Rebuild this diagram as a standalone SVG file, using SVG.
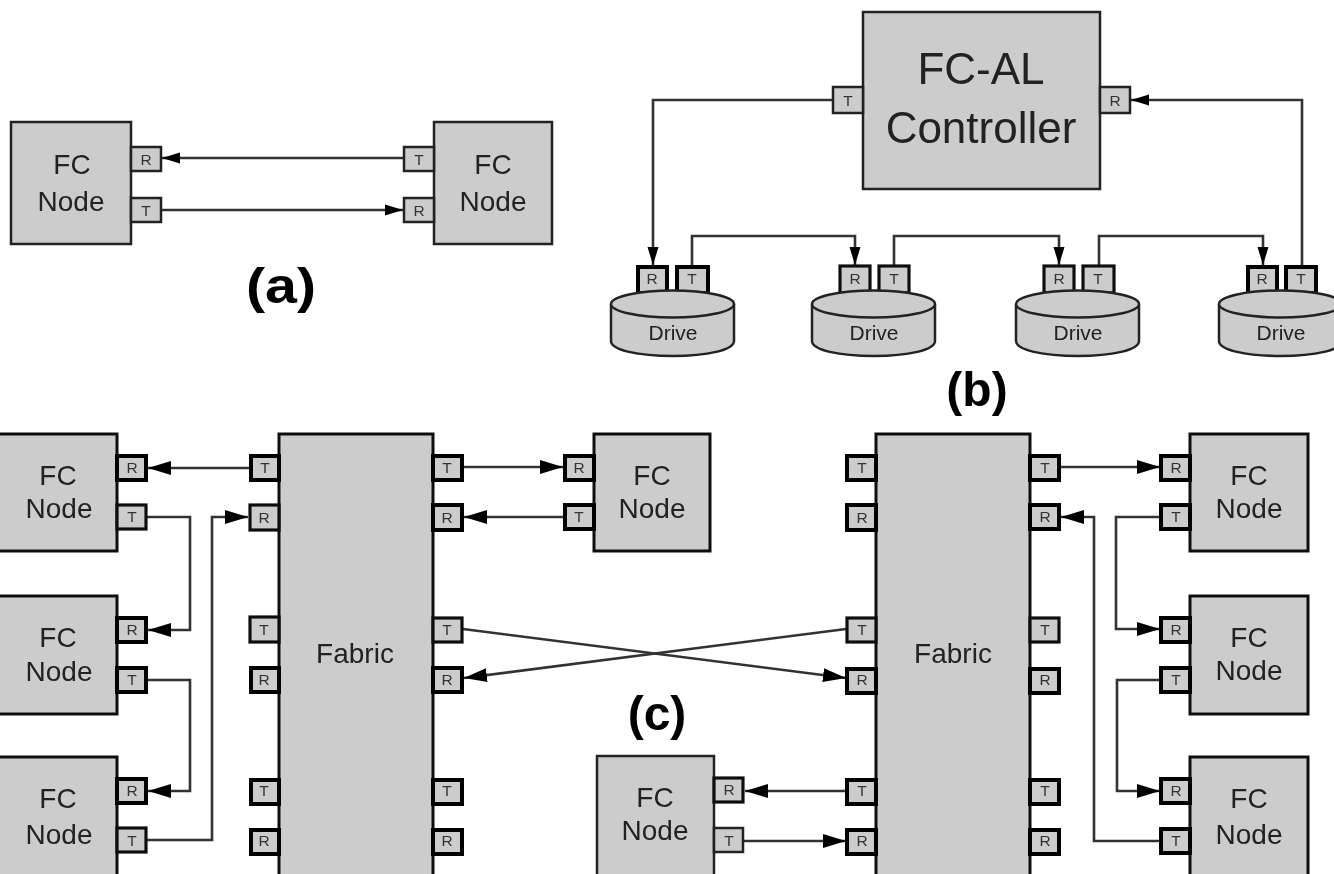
<svg xmlns="http://www.w3.org/2000/svg" width="1334" height="874" viewBox="0 0 1334 874">
<style>
.n{fill:#ccc;stroke:#111;stroke-width:3}
.p{fill:#ccc;stroke:#222;stroke-width:2.5}
.m{fill:#ccc;stroke:#111;stroke-width:3.2}
.k{fill:#ccc;stroke:#000;stroke-width:4}
.c{fill:none;stroke:#333;stroke-width:2.6}
text{font-family:"Liberation Sans",Arial,sans-serif;text-anchor:middle;fill:#222}
.t{font-size:28px}.f{font-size:44px}.s{font-size:15.5px;fill:#333}.d{font-size:21px}
.l{font-size:48px;font-weight:bold;fill:#000}
</style>
<defs>
<filter id="soft" x="0" y="0" width="100%" height="100%" filterUnits="objectBoundingBox"><feGaussianBlur stdDeviation="0.55"/></filter>
<marker id="a" markerUnits="userSpaceOnUse" markerWidth="24" markerHeight="16" refX="23" refY="7" orient="auto"><path d="M0 0L23 7L0 14Z" fill="#000"/></marker>
<marker id="b" markerUnits="userSpaceOnUse" markerWidth="20" markerHeight="14" refX="18" refY="6" orient="auto"><path d="M0 0.5L18 6L0 11.5Z" fill="#000"/></marker>
<symbol id="drive" overflow="visible"><path d="M0 14V51C0 60 27 66 62 66C96 66 123 60 123 51V14" fill="#ccc" stroke="#222" stroke-width="2.5"/><ellipse cx="61.5" cy="14" rx="61.5" ry="13.5" fill="#ccc" stroke="#222" stroke-width="2.5"/></symbol>
</defs>
<g filter="url(#soft)">
<rect width="1334" height="874" fill="#fff"/>
<g id="connectors">
<path class="c" d="M404 158H162" marker-end="url(#b)"/><path class="c" d="M161 210H403" marker-end="url(#b)"/>
<path class="c" d="M833 100H653V265" marker-end="url(#b)"/><path class="c" d="M1302 265V100H1131" marker-end="url(#b)"/>
<path class="c" d="M692 265V236H855V265" marker-end="url(#b)"/><path class="c" d="M894 265V236H1059V265" marker-end="url(#b)"/><path class="c" d="M1099 265V236H1263V265" marker-end="url(#b)"/>
<path class="c" d="M249 468H148" marker-end="url(#a)"/><path class="c" d="M147 517H190V630H148" marker-end="url(#a)"/><path class="c" d="M147 680H190V791H148" marker-end="url(#a)"/><path class="c" d="M147 840H212V517H248" marker-end="url(#a)"/>
<path class="c" d="M463 467H563" marker-end="url(#a)"/><path class="c" d="M564 517H464" marker-end="url(#a)"/><path class="c" d="M463 629L846 678" marker-end="url(#a)"/><path class="c" d="M846 629L464 678" marker-end="url(#a)"/>
<path class="c" d="M1060 467H1160" marker-end="url(#a)"/><path class="c" d="M1160 517H1116V629H1160" marker-end="url(#a)"/><path class="c" d="M1160 680H1117V791H1160" marker-end="url(#a)"/><path class="c" d="M1160 841H1094V517H1061" marker-end="url(#a)"/>
<path class="c" d="M846 791H745" marker-end="url(#a)"/><path class="c" d="M744 841H846" marker-end="url(#a)"/>
</g>
<g id="a-node1"><rect class="p" x="11" y="122" width="120" height="122"/><text class="t" x="72" y="174">FC</text><text class="t" x="71" y="211">Node</text><rect class="p" x="131" y="147" width="30" height="24"/><text class="s" x="146" y="165">R</text><rect class="p" x="131" y="198" width="30" height="24"/><text class="s" x="146" y="216">T</text></g>
<g id="a-node2"><rect class="p" x="434" y="122" width="118" height="122"/><text class="t" x="493" y="174">FC</text><text class="t" x="493" y="211">Node</text><rect class="p" x="404" y="147" width="30" height="24"/><text class="s" x="419" y="165">T</text><rect class="p" x="404" y="198" width="30" height="24"/><text class="s" x="419" y="216">R</text></g>
<g id="controller"><rect class="p" x="863" y="12" width="237" height="177"/><text class="f" x="981" y="84">FC-AL</text><text class="f" x="981" y="143">Controller</text><rect class="p" x="833" y="87" width="30" height="26"/><text class="s" x="848" y="106">T</text><rect class="p" x="1100" y="87" width="30" height="26"/><text class="s" x="1115" y="106">R</text></g>
<g id="drive1"><rect class="k" x="638" y="267" width="29" height="26"/><text class="s" x="652" y="284">R</text><rect class="k" x="677" y="267" width="31" height="26"/><text class="s" x="692" y="284">T</text><use href="#drive" x="611" y="290"/><text class="d" x="673" y="340">Drive</text></g>
<g id="drive2"><rect class="m" x="840" y="266" width="30" height="27"/><text class="s" x="855" y="284">R</text><rect class="m" x="879" y="266" width="30" height="27"/><text class="s" x="894" y="284">T</text><use href="#drive" x="812" y="290"/><text class="d" x="874" y="340">Drive</text></g>
<g id="drive3"><rect class="m" x="1044" y="266" width="30" height="27"/><text class="s" x="1059" y="284">R</text><rect class="m" x="1083" y="266" width="31" height="27"/><text class="s" x="1098" y="284">T</text><use href="#drive" x="1016" y="290"/><text class="d" x="1078" y="340">Drive</text></g>
<g id="drive4"><rect class="k" x="1248" y="267" width="29" height="26"/><text class="s" x="1262" y="284">R</text><rect class="k" x="1286" y="267" width="30" height="26"/><text class="s" x="1301" y="284">T</text><use href="#drive" x="1219" y="290"/><text class="d" x="1281" y="340">Drive</text></g>
<g id="c-node1"><rect class="n" x="-2" y="434" width="119" height="117"/><text class="t" x="58" y="485">FC</text><text class="t" x="59" y="518">Node</text><rect class="k" x="117" y="456" width="29" height="24"/><text class="s" x="132" y="473">R</text><rect class="m" x="117" y="505" width="29" height="24"/><text class="s" x="132" y="522">T</text></g>
<g id="c-node2"><rect class="n" x="-2" y="596" width="119" height="118"/><text class="t" x="58" y="647">FC</text><text class="t" x="59" y="681">Node</text><rect class="k" x="117" y="618" width="29" height="24"/><text class="s" x="132" y="635">R</text><rect class="k" x="117" y="668" width="29" height="24"/><text class="s" x="132" y="685">T</text></g>
<g id="c-node3"><rect class="n" x="-2" y="757" width="119" height="120"/><text class="t" x="58" y="808">FC</text><text class="t" x="59" y="844">Node</text><rect class="k" x="117" y="779" width="29" height="24"/><text class="s" x="132" y="796">R</text><rect class="m" x="117" y="828" width="29" height="24"/><text class="s" x="132" y="846">T</text></g>
<g id="fabric1"><rect class="n" x="279" y="434" width="154" height="445"/><text class="t" x="355" y="663">Fabric</text>
<rect class="k" x="251" y="456" width="28" height="24"/><text class="s" x="265" y="473">T</text><rect class="m" x="250" y="505" width="29" height="25"/><text class="s" x="264" y="523">R</text><rect class="m" x="250" y="617" width="29" height="25"/><text class="s" x="264" y="635">T</text><rect class="k" x="251" y="668" width="28" height="24"/><text class="s" x="264" y="685">R</text><rect class="k" x="251" y="780" width="28" height="24"/><text class="s" x="264" y="796">T</text><rect class="k" x="251" y="830" width="28" height="24"/><text class="s" x="264" y="846">R</text>
<rect class="k" x="433" y="456" width="29" height="24"/><text class="s" x="447" y="473">T</text><rect class="k" x="433" y="505" width="29" height="25"/><text class="s" x="447" y="523">R</text><rect class="m" x="433" y="618" width="29" height="24"/><text class="s" x="447" y="635">T</text><rect class="k" x="433" y="668" width="29" height="24"/><text class="s" x="447" y="685">R</text><rect class="k" x="433" y="780" width="29" height="24"/><text class="s" x="447" y="796">T</text><rect class="k" x="433" y="830" width="29" height="24"/><text class="s" x="447" y="846">R</text></g>
<g id="c-node4"><rect class="n" x="594" y="434" width="116" height="117"/><text class="t" x="652" y="485">FC</text><text class="t" x="652" y="518">Node</text><rect class="k" x="565" y="456" width="29" height="24"/><text class="s" x="579" y="473">R</text><rect class="k" x="565" y="505" width="29" height="24"/><text class="s" x="579" y="522">T</text></g>
<g id="c-node5"><rect class="p" x="597" y="756" width="117" height="120"/><text class="t" x="655" y="807">FC</text><text class="t" x="655" y="840">Node</text><rect class="m" x="714" y="778" width="29" height="24"/><text class="s" x="729" y="795">R</text><rect class="p" x="714" y="828" width="29" height="24"/><text class="s" x="729" y="846">T</text></g>
<g id="fabric2"><rect class="n" x="876" y="434" width="154" height="445"/><text class="t" x="953" y="663">Fabric</text>
<rect class="k" x="847" y="456" width="29" height="24"/><text class="s" x="862" y="473">T</text><rect class="k" x="847" y="505" width="29" height="25"/><text class="s" x="862" y="523">R</text><rect class="m" x="847" y="618" width="29" height="24"/><text class="s" x="862" y="635">T</text><rect class="k" x="847" y="669" width="29" height="24"/><text class="s" x="862" y="685">R</text><rect class="k" x="847" y="780" width="29" height="24"/><text class="s" x="862" y="796">T</text><rect class="k" x="847" y="830" width="29" height="24"/><text class="s" x="862" y="846">R</text>
<rect class="k" x="1030" y="456" width="29" height="24"/><text class="s" x="1045" y="473">T</text><rect class="k" x="1030" y="505" width="29" height="24"/><text class="s" x="1045" y="522">R</text><rect class="m" x="1030" y="618" width="29" height="24"/><text class="s" x="1045" y="635">T</text><rect class="k" x="1030" y="669" width="29" height="24"/><text class="s" x="1045" y="685">R</text><rect class="k" x="1030" y="780" width="29" height="24"/><text class="s" x="1045" y="796">T</text><rect class="k" x="1030" y="830" width="29" height="24"/><text class="s" x="1045" y="846">R</text></g>
<g id="c-node6"><rect class="n" x="1190" y="434" width="118" height="117"/><text class="t" x="1249" y="485">FC</text><text class="t" x="1249" y="518">Node</text><rect class="k" x="1161" y="456" width="29" height="24"/><text class="s" x="1176" y="473">R</text><rect class="k" x="1161" y="505" width="29" height="24"/><text class="s" x="1176" y="522">T</text></g>
<g id="c-node7"><rect class="n" x="1190" y="596" width="118" height="118"/><text class="t" x="1249" y="647">FC</text><text class="t" x="1249" y="680">Node</text><rect class="k" x="1161" y="618" width="29" height="24"/><text class="s" x="1176" y="635">R</text><rect class="k" x="1161" y="668" width="29" height="24"/><text class="s" x="1176" y="685">T</text></g>
<g id="c-node8"><rect class="n" x="1190" y="757" width="118" height="120"/><text class="t" x="1249" y="808">FC</text><text class="t" x="1249" y="844">Node</text><rect class="k" x="1161" y="779" width="29" height="24"/><text class="s" x="1176" y="796">R</text><rect class="k" x="1161" y="829" width="29" height="24"/><text class="s" x="1176" y="846">T</text></g>
<text class="l" x="281" y="303" style="font-size:50px" textLength="70" lengthAdjust="spacingAndGlyphs">(a)</text><text class="l" x="977" y="406">(b)</text><text class="l" x="657" y="730">(c)</text>
</g>
</svg>
